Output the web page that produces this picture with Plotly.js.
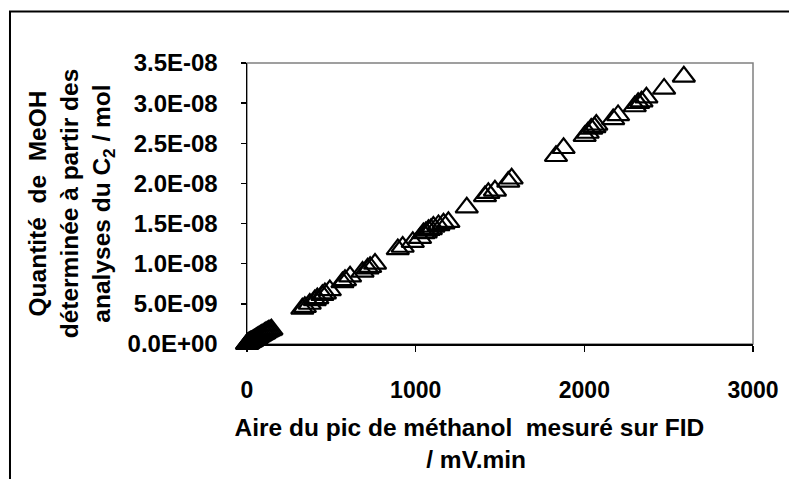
<!DOCTYPE html>
<html>
<head>
<meta charset="utf-8">
<script src="https://cdn.plot.ly/plotly-3.0.1.min.js"></script>
<style>html,body{margin:0;padding:0;background:#fff;}#chart{width:789px;height:479px;}</style>
</head>
<body>
<div id="chart"></div>
<script>
// Peak area of methanol measured on FID (mV.min)
const aireFID = [0, 3, 6, 10, 14, 18, 22, 27, 32, 38, 44, 50, 57, 64, 72, 80, 88, 96, 104, 112, 120, 128, 137, 145,
  328, 343, 372, 402, 417, 447, 462, 491,
  566, 581, 611,
  685, 715, 730, 759,
  894, 923, 983,
  1026, 1046, 1060, 1076, 1090, 1105, 1135, 1165, 1194,
  1303,
  1411, 1431, 1470,
  1549, 1569,
  1832, 1877,
  2002, 2020, 2041, 2060, 2071,
  2171, 2200,
  2299, 2319, 2339, 2368,
  2473, 2590];
// Quantity of MeOH determined from C2 analyses (mol)
const quantiteMeOH = [0, 0.05e-9, 0.1e-9, 0.15e-9, 0.2e-9, 0.25e-9, 0.3e-9, 0.35e-9, 0.4e-9, 0.5e-9, 0.55e-9, 0.65e-9, 0.75e-9, 0.85e-9, 0.95e-9, 1.05e-9, 1.15e-9, 1.25e-9, 1.35e-9, 1.45e-9, 1.55e-9, 1.65e-9, 1.72e-9, 1.8e-9,
  4.4e-9, 4.6e-9, 5.0e-9, 5.45e-9, 5.7e-9, 6.1e-9, 6.3e-9, 6.7e-9,
  7.7e-9, 7.95e-9, 8.4e-9,
  9.0e-9, 9.4e-9, 9.6e-9, 10.0e-9,
  11.8e-9, 12.1e-9, 12.7e-9,
  13.2e-9, 13.8e-9, 13.9e-9, 14.2e-9, 14.3e-9, 14.6e-9, 14.8e-9, 15.0e-9, 15.2e-9,
  17.0e-9,
  18.4e-9, 18.8e-9, 19.1e-9,
  20.2e-9, 20.6e-9,
  23.4e-9, 24.4e-9,
  25.9e-9, 26.3e-9, 26.8e-9, 27.0e-9, 27.3e-9,
  28.0e-9, 28.5e-9,
  29.6e-9, 30.0e-9, 30.2e-9, 30.7e-9,
  31.8e-9, 33.3e-9];

const yTickVals = [0, 5e-9, 1e-8, 1.5e-8, 2e-8, 2.5e-8, 3e-8, 3.5e-8];
const yTickText = ["0.0E+00", "5.0E-09", "1.0E-08", "1.5E-08", "2.0E-08", "2.5E-08", "3.0E-08", "3.5E-08"];
const xTickVals = [0, 1000, 2000, 3000];
const xTickText = ["0", "1000", "2000", "3000"];

const FONT = 'Liberation Sans, Arial, sans-serif';
const NB = '\u00A0';
const ZW = '\u200B';

const trace = {
  x: aireFID,
  y: quantiteMeOH,
  type: 'scatter',
  mode: 'markers',
  cliponaxis: false,
  marker: {symbol: 'triangle-up-open', size: 19.5, color: '#000', line: {width: 2.2, color: '#000'}},
  hoverinfo: 'x+y'
};

const layout = {
  width: 789, height: 479,
  margin: {l: 247, r: 36, t: 63, b: 135},
  paper_bgcolor: '#fff', plot_bgcolor: '#fff',
  showlegend: false,
  font: {family: FONT, color: '#000'},
  xaxis: {
    range: [0, 3000],
    tickvals: xTickVals, ticktext: xTickText,
    ticks: 'outside', ticklen: 6, tickwidth: 1.5, tickcolor: '#000',
    showline: true, linecolor: '#000', linewidth: 2,
    showgrid: false, zeroline: false,
    ticklabelstandoff: 18,
    tickfont: {size: 23, weight: 'bold', family: FONT},
    title: {
      text: 'Aire du pic de méthanol' + NB + NB + 'mesuré sur FID' + NB.repeat(9) + ZW + '<br>/ mV.min' + NB.repeat(7) + ZW,
      font: {size: 24.5, weight: 'bold', family: FONT},
      standoff: 17
    }
  },
  yaxis: {
    range: [0, 3.5e-8],
    tickvals: yTickVals, ticktext: yTickText,
    ticks: 'outside', ticklen: 5, tickwidth: 1.5, tickcolor: '#000',
    showline: true, linecolor: '#000', linewidth: 1.5,
    showgrid: false, zeroline: false,
    ticklabelstandoff: 18,
    tickfont: {size: 24, weight: 'bold', family: FONT},
    title: {
      text: 'Quantité' + NB + NB + 'de' + NB + NB + 'MeOH<br>déterminée à partir des<br>analyses du C<sub>2</sub> / mol',
      font: {size: 24.5, weight: 'bold', family: FONT},
      standoff: 10
    }
  },
  shapes: [
    {type: 'rect', xref: 'paper', yref: 'paper', x0: 0, x1: 1, y0: 0, y1: 1,
     line: {color: '#808080', width: 1.5}, layer: 'below'},
    {type: 'rect', xref: 'paper', yref: 'paper', x0: -0.4684, x1: 1.2, y0: -0.6, y1: 1.1829,
     line: {color: '#000', width: 2}, layer: 'above'}
  ]
};

Plotly.newPlot('chart', [trace], layout, {displayModeBar: false, staticPlot: true});
</script>
</body>
</html>
